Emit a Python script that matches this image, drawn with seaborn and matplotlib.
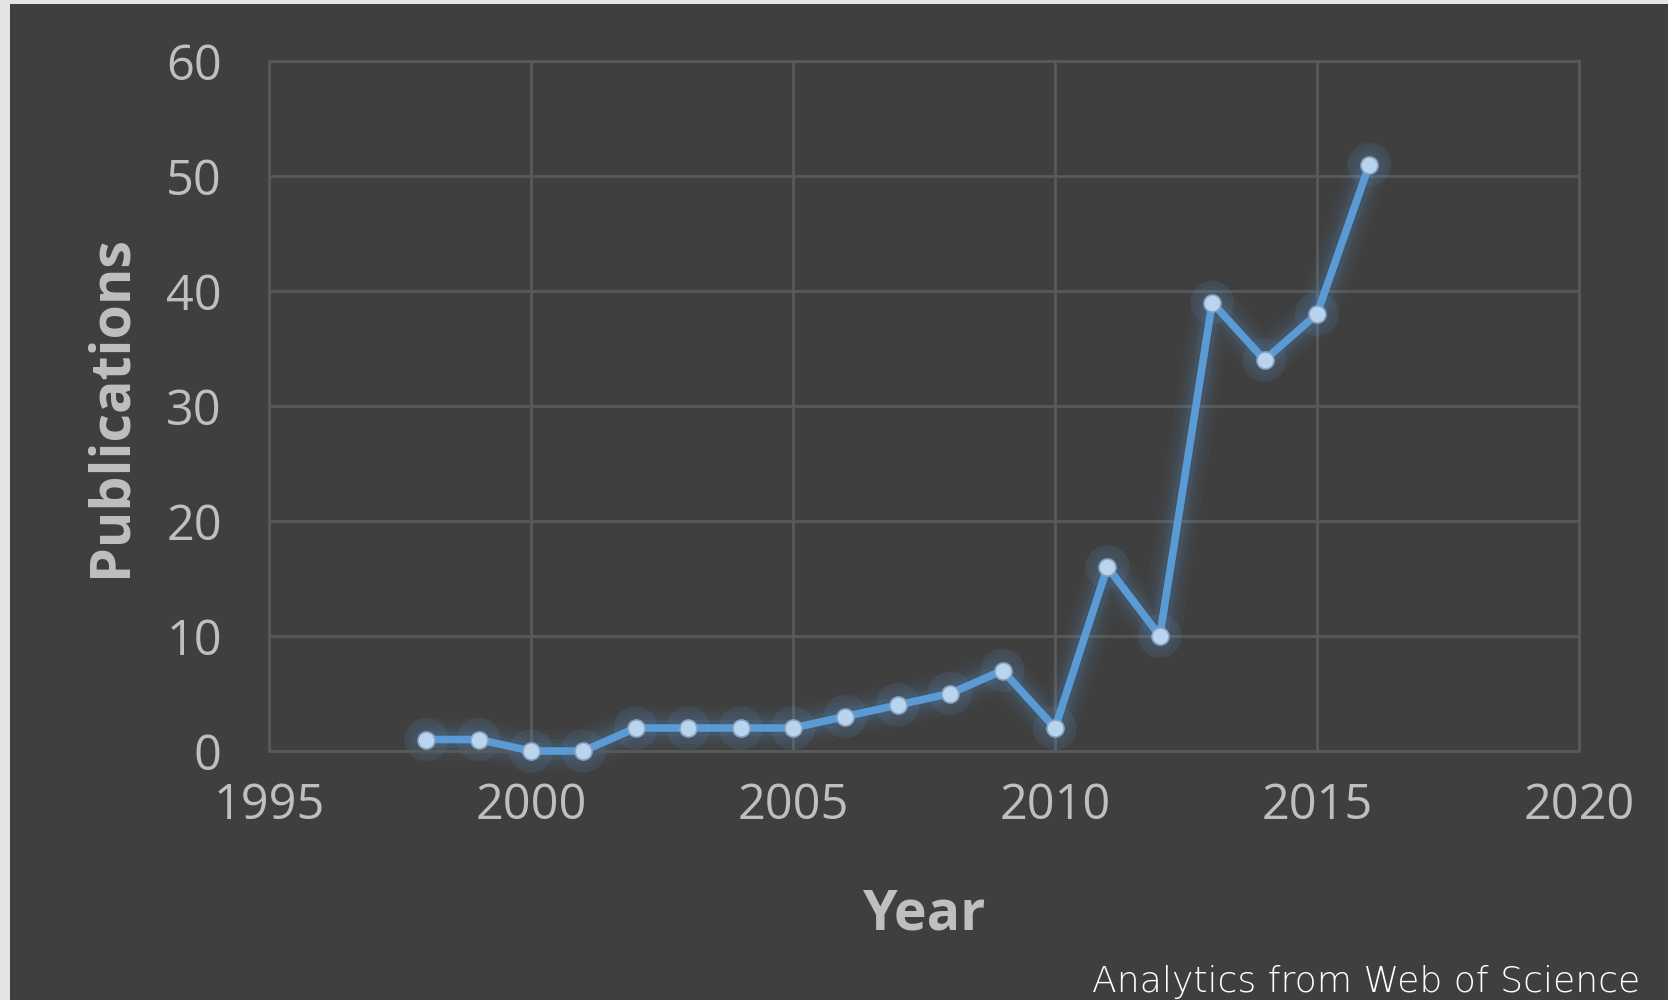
import matplotlib
matplotlib.use("Agg")
import matplotlib.pyplot as plt
import matplotlib.patches as mpatches
import seaborn as sns
import pandas as pd

years = [1998, 1999, 2000, 2001, 2002, 2003, 2004, 2005, 2006, 2007,
         2008, 2009, 2010, 2011, 2012, 2013, 2014, 2015, 2016]
publications = [1, 1, 0, 0, 2, 2, 2, 2, 3, 4, 5, 7, 2, 16, 10, 39, 34, 38, 51]
x_ticks = [1995, 2000, 2005, 2010, 2015, 2020]
y_ticks = [0, 10, 20, 30, 40, 50, 60]

df = pd.DataFrame({"Year": years, "Publications": publications})

sns.set_theme(style="dark")
plt.rcParams["font.family"] = ["Open Sans", "DejaVu Sans"]

BG = "#3f3f3f"
TXT = "#bfbfbf"
GRID = "#595959"
LINE = "#5b9bd5"

fig = plt.figure(figsize=(16.68, 10), dpi=100)
fig.patch.set_facecolor("#e4e4e4")
panel = mpatches.Rectangle((10 / 1668, 0), 1 - 10 / 1668, 1 - 4 / 1000,
                           transform=fig.transFigure, facecolor=BG,
                           edgecolor="none", zorder=-10)
fig.patches.append(panel)

ax = fig.add_axes([269 / 1668, 1 - 751 / 1000, (1579 - 269) / 1668, (751 - 61) / 1000])
ax.set_zorder(1)
ax.set_facecolor(BG)

# soft glow under the series
for lw, a in [(30, 0.04), (23, 0.05), (17, 0.07), (12, 0.10)]:
    sns.lineplot(data=df, x="Year", y="Publications", ax=ax, color=LINE,
                 linewidth=lw, alpha=a, zorder=2, legend=False)
glow = sns.scatterplot(data=df, x="Year", y="Publications", ax=ax, color=LINE,
                       s=1000, alpha=0.12, edgecolor="none", zorder=2, legend=False)
sns.lineplot(data=df, x="Year", y="Publications", ax=ax, color=LINE,
             linewidth=5.5, zorder=3, legend=False)
sns.scatterplot(data=df, x="Year", y="Publications", ax=ax, color="#b9d4ee",
                s=150, edgecolor="#8aa4bf", linewidth=1.2, zorder=4, legend=False)
for artist in ax.collections + ax.lines:
    artist.set_clip_on(False)

ax.set_xlim(1995, 2020)
ax.set_ylim(0, 60)
ax.set_xticks(x_ticks)
ax.set_yticks(y_ticks)
ax.grid(True, color=GRID, linewidth=2)
ax.set_axisbelow(True)
for s in ax.spines.values():
    s.set_visible(True)
    s.set_color(GRID)
    s.set_linewidth(2)
ax.tick_params(axis="both", colors=TXT, labelsize=35, length=0)
ax.tick_params(axis="y", pad=34)
ax.tick_params(axis="x", pad=22)

ax.set_xlabel("Year", fontsize=40, fontweight="bold", color=TXT, labelpad=41)
ax.set_ylabel("Publications", fontsize=40, fontweight="bold", color=TXT, labelpad=20)

fig.text(1640 / 1668, 1 - 992 / 1000, "Analytics from Web of Science",
         ha="right", va="baseline", fontsize=26, color="white",
         family=["DejaVu Sans"], fontweight="light")

fig.savefig("out.png", dpi=100, facecolor=fig.get_facecolor())
